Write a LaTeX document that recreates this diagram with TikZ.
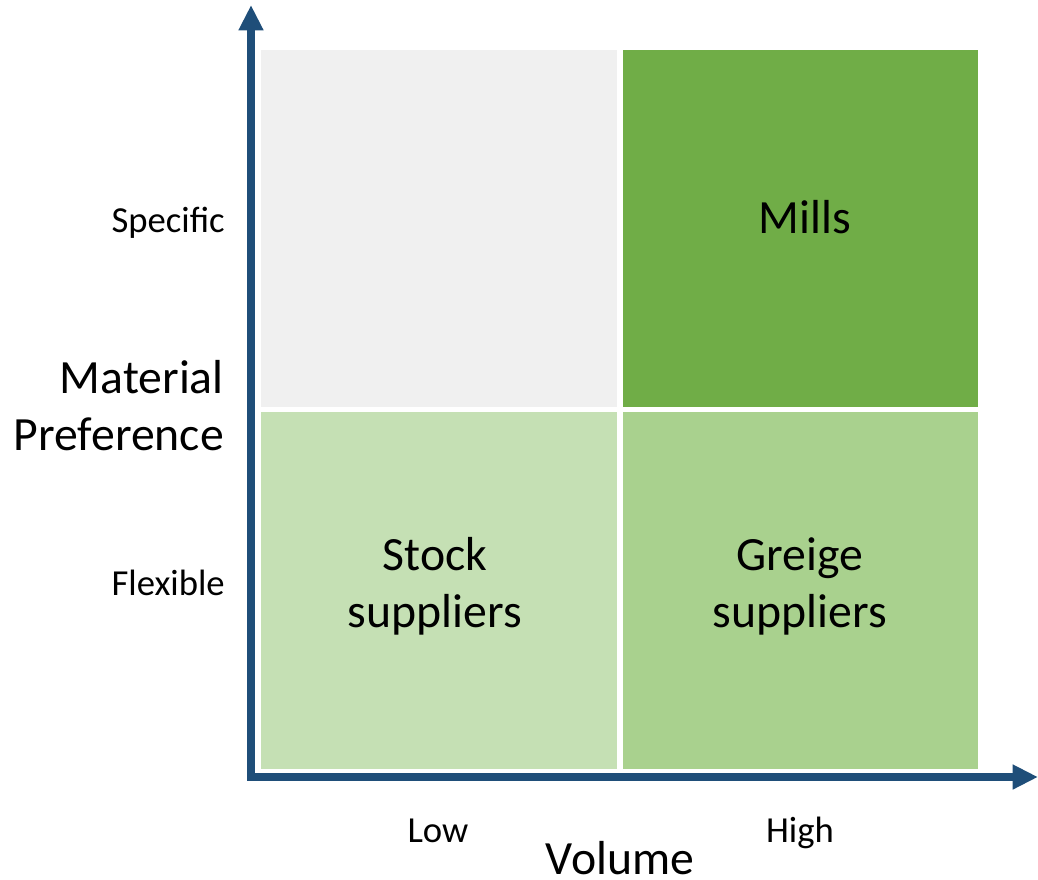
\documentclass[tikz,border=0pt]{standalone}
\usepackage{fontspec}
\setmainfont{Carlito}
\usetikzlibrary{arrows.meta}
\definecolor{axisblue}{HTML}{1F4E79}
\definecolor{cellgray}{HTML}{F0F0F0}
\definecolor{celldark}{HTML}{70AD47}
\definecolor{celllight}{HTML}{C5E0B4}
\definecolor{cellmid}{HTML}{A9D18E}
\begin{document}
\begin{tikzpicture}[x=0.75pt,y=-0.75pt,
  cell/.style={inner sep=0pt, outer sep=0pt, minimum width=266.5pt, minimum height=267.5pt},
  small/.style={inner sep=0pt, font=\fontsize{27.5}{33}\selectfont},
  big/.style={inner sep=0pt, align=center, font=\fontsize{35.8}{42.5}\selectfont},
  axis/.style={draw=axisblue, line width=6pt, line join=miter, {Triangle[width=17.5pt,length=19pt]}-{Triangle[width=17.5pt,length=19pt]}}]
\useasboundingbox (0,0) rectangle (1038,879);
\node[cell, fill=cellgray] (tl) at (439,228.5) {};
\node[cell, fill=celldark] (tr) at (800.5,228.5) {};
\node[cell, fill=celllight] (bl) at (439,590.5) {};
\node[cell, fill=cellmid] (br) at (800.5,590.5) {};
\node[big, anchor=base] (mills) at (805,233) {Mills};
\node[big, anchor=base] (stock) at (435,627) {Stock\\suppliers};
\node[big, anchor=base] (greige) at (800,627) {Greige\\suppliers};
\coordinate (ytip) at (251,5);
\coordinate (origin) at (251,777);
\coordinate (xtip) at (1038,777);
\draw[axis] (ytip) -- (origin) -- (xtip);
\node[small, anchor=base east] (spec) at (225,232) {Specific};
\node[small, anchor=base east] (flex) at (225,595) {Flexible};
\node[big, anchor=base east, align=right] (matpref) at (224,450) {Material\\Preference};
\node[small, anchor=base] (low) at (438,842) {Low};
\node[small, anchor=base] (high) at (800,842) {High};
\node[big, anchor=base] (vol) at (620,874) {Volume};
\end{tikzpicture}
\end{document}
